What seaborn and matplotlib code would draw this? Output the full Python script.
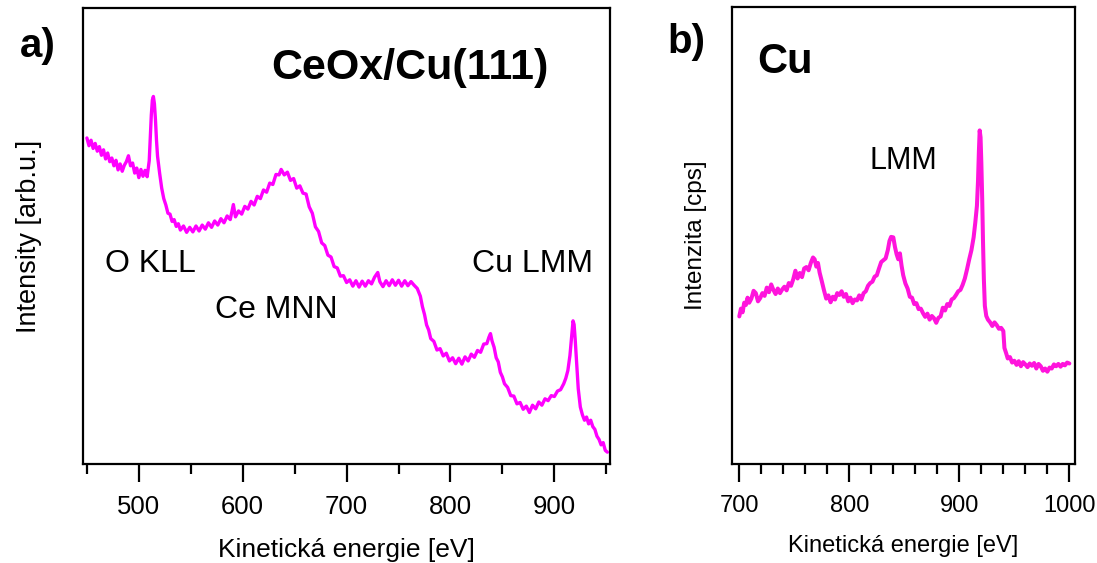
import matplotlib
matplotlib.use("Agg")
import matplotlib.pyplot as plt
import seaborn as sns
import pandas as pd
from matplotlib.ticker import MultipleLocator

# ---- Panel a) CeOx/Cu(111) AES spectrum (values read from picture) ----
ceox_energy = [450, 452, 454, 456, 458, 460, 462, 464, 466, 468, 470, 472, 474, 476, 478, 480,
               482, 484, 486, 488, 490, 492, 494, 496, 498, 500, 502, 504, 506, 508, 510, 511,
               512, 513, 514, 515, 516, 517, 518, 520, 522, 524, 526, 528, 530, 532, 534, 536,
               538, 540, 543, 546, 549, 552, 555, 558, 561, 564, 567, 570, 573, 576, 579, 582,
               585, 588, 591, 593, 596, 599, 602, 605, 608, 611, 614, 617, 620, 623, 626, 629,
               632, 635, 637, 640, 643, 646, 649, 652, 655, 658, 661, 664, 667, 670, 673, 676,
               679, 682, 685, 688, 691, 694, 697, 700, 703, 706, 709, 712, 715, 718, 721, 724,
               727, 730, 732, 735, 738, 741, 744, 747, 750, 753, 756, 759, 762, 765, 768, 771,
               773, 775, 777, 779, 781, 784, 787, 790, 793, 796, 799, 802, 805, 808, 811, 814,
               817, 820, 823, 826, 829, 832, 835, 837, 838.5, 840, 842, 844, 846, 848, 850, 852,
               855, 858, 861, 864, 867, 870, 873, 876, 879, 882, 885, 888, 891, 894, 897, 900,
               903, 906, 909, 911, 913, 915, 916.5, 918, 919, 920, 921.5, 923, 925, 927, 929, 931,
               933, 935, 937, 939, 941, 943, 945, 947, 949, 951]
ceox_intensity = [71.5, 69.8, 71.0, 69.2, 70.3, 68.6, 69.6, 67.7, 68.9, 66.9, 68.2, 66.3, 67.1, 65.4, 66.6, 64.5,
                  65.8, 64.2, 65.5, 66.3, 67.6, 65.4, 66.0, 63.8, 64.9, 62.8, 64.6, 63.1, 64.4, 63.0, 66.5, 71.5,
                  76.5, 79.8, 80.6, 79.0, 75.5, 71.0, 67.5, 63.8, 60.5, 58.2, 56.8, 55.0, 54.8, 53.2, 53.6, 52.1,
                  52.7, 51.3, 52.2, 50.8, 51.9, 50.9, 52.2, 51.1, 52.4, 51.5, 52.9, 51.9, 53.3, 52.4, 53.8, 52.9,
                  54.4, 53.6, 56.9, 54.2, 55.5, 54.8, 56.5, 55.9, 57.6, 56.8, 58.7, 58.2, 60.1, 59.6, 61.6, 61.3,
                  63.5, 63.4, 64.6, 63.4, 64.0, 62.2, 62.6, 60.5, 61.0, 59.4, 59.2, 56.4, 55.0, 52.0, 51.0, 48.5,
                  47.9, 45.8, 45.4, 43.3, 43.0, 41.2, 41.3, 39.8, 40.4, 39.0, 40.2, 38.8, 40.1, 39.0, 40.2, 39.5,
                  41.0, 42.0, 40.0, 38.9, 40.2, 39.1, 40.4, 39.2, 40.3, 39.0, 40.2, 39.1, 40.0, 39.2, 38.5, 36.8,
                  34.5, 32.8, 30.5, 29.4, 27.5, 26.9, 25.0, 25.3, 23.7, 24.3, 22.6, 23.3, 22.0, 23.2, 21.9, 23.5,
                  22.6, 24.1, 23.4, 24.9, 24.5, 26.3, 26.4, 27.8, 28.6, 27.0, 25.6, 23.3, 22.4, 20.1, 19.1, 17.6,
                  16.8, 15.0, 14.9, 13.2, 13.5, 12.0, 12.7, 11.3, 12.9, 12.1, 13.6, 12.9, 14.3, 13.9, 15.0, 14.8,
                  16.0, 16.3, 17.6, 18.8, 20.5, 23.8, 27.5, 31.4, 30.6, 27.5, 22.0, 16.5, 12.5, 10.8, 9.6, 10.3,
                  8.8, 9.6, 8.2, 7.6, 6.1, 5.4, 4.2, 4.7, 3.0, 2.6]

# ---- Panel b) Cu AES spectrum (values read from picture) ----
cu_energy = [700, 701.5, 703, 704.5, 706, 707.5, 709, 711, 713, 715, 717, 719, 721, 723, 725, 727,
             729, 731, 733, 735, 737, 739, 741, 743, 745, 747, 749, 751, 753, 755, 757, 759,
             761, 763, 765, 767, 768.5, 770, 771.5, 773, 775, 777, 779, 781, 783, 785, 787, 789,
             791, 793, 795, 797, 799, 801, 803, 805, 807, 809, 811, 813, 815, 817, 819, 821,
             823, 825, 827, 829, 831, 833, 835, 836.5, 838, 840, 841.5, 843, 844.5, 846, 847.5, 849,
             851, 853, 855, 857, 859, 861, 863, 865, 867, 869, 871, 873, 875, 877, 879, 881,
             883, 885, 887, 889, 891, 893, 895, 897, 899, 901, 903, 905, 907, 909, 911, 913,
             914.5, 916, 917, 917.8, 918.5, 919.3, 920, 920.8, 921.5, 922.3, 923.2, 924.5, 926, 928, 930, 932,
             934, 936, 938, 940, 941, 942.5, 944, 946, 948, 950, 952, 954, 956, 958, 960, 962,
             964, 966, 968, 970, 972, 974, 976, 978, 980, 982, 984, 986, 988, 990, 992, 994,
             996, 998, 1000]
cu_intensity = [32.3, 34.0, 33.2, 35.3, 34.8, 36.4, 35.3, 36.2, 37.9, 37.4, 35.6, 36.3, 37.4, 36.8, 38.6, 37.6,
                39.3, 38.1, 37.2, 38.4, 37.4, 38.2, 38.8, 38.0, 39.6, 39.0, 40.4, 42.3, 40.6, 41.8, 40.9, 42.8,
                43.1, 42.4, 44.0, 45.2, 44.8, 43.2, 44.0, 41.9, 40.0, 38.0, 36.2, 36.9, 35.4, 36.6, 36.0, 37.4,
                37.0, 37.8, 36.6, 37.2, 35.6, 36.4, 35.2, 36.0, 35.8, 36.9, 36.0, 37.4, 37.8, 39.0, 39.6, 39.9,
                41.0, 41.3, 42.8, 44.2, 44.6, 45.0, 46.8, 48.8, 49.7, 49.6, 47.5, 45.9, 44.8, 46.1, 43.4, 41.3,
                39.5, 38.4, 36.6, 36.4, 35.0, 35.2, 33.9, 34.0, 33.0, 32.2, 32.9, 31.6, 32.4, 31.9, 30.9, 32.0,
                32.3, 34.2, 33.6, 35.0, 34.6, 36.0, 36.3, 37.0, 37.8, 38.1, 39.2, 40.6, 42.6, 44.8, 46.8, 49.6,
                52.8, 56.5, 62.0, 68.5, 73.0, 71.5, 66.0, 58.0, 49.0, 40.5, 34.6, 32.4, 31.6, 31.0, 30.2, 31.0,
                30.4, 29.6, 29.8, 29.1, 25.4, 24.3, 23.1, 23.4, 22.2, 22.6, 21.7, 22.5, 21.4, 22.3, 21.8, 21.2,
                22.0, 21.5, 22.1, 20.9, 21.9, 21.4, 20.4, 20.9, 20.2, 21.1, 20.9, 21.8, 21.4, 21.9, 21.3, 21.9,
                21.6, 22.2, 22.0]

ceox_ticks = [500, 600, 700, 800, 900]
cu_ticks = [700, 800, 900, 1000]

sns.set_style("white")
plt.rcParams['font.family'] = ['Liberation Sans', 'DejaVu Sans']
plt.rcParams['text.color'] = 'black'
plt.rcParams['axes.labelcolor'] = 'black'
plt.rcParams['xtick.color'] = 'black'
plt.rcParams['ytick.color'] = 'black'

df_a = pd.DataFrame({"E": ceox_energy, "I": ceox_intensity})
df_b = pd.DataFrame({"E": cu_energy, "I": cu_intensity})

fig = plt.figure(figsize=(10.97, 5.63), dpi=100)
axL = fig.add_axes([0.0759, 0.1758, 0.4801, 0.810])
axR = fig.add_axes([0.667, 0.1758, 0.313, 0.8117])

sns.lineplot(data=df_a, x="E", y="I", ax=axL, color="#ff00ff", lw=2.4, sort=False, estimator=None)
sns.lineplot(data=df_b, x="E", y="I", ax=axR, color="#ff14dc", lw=2.9, sort=False, estimator=None)

for ax in (axL, axR):
    for sp in ax.spines.values():
        sp.set_visible(True)
        sp.set_color("black")
        sp.set_linewidth(1.6)
    ax.set_yticks([])
    ax.set_ylim(0, 100)
    ax.tick_params(axis="x", which="major", direction="out", length=13, width=1.6,
                   color="black", labelcolor="black", bottom=True)
    ax.tick_params(axis="x", which="minor", direction="out", length=7, width=1.6,
                   color="black", bottom=True)

axL.set_xlim(446.5, 953.5)
axL.set_xticks(ceox_ticks)
axL.xaxis.set_minor_locator(MultipleLocator(50))
axL.tick_params(axis="x", which="major", labelsize=18.5, pad=9)
axL.set_xlabel("Kinetická energie [eV]", fontsize=19, labelpad=14)
axL.set_ylabel("Intensity [arb.u.]", fontsize=19.5, labelpad=30)

axR.set_xlim(693.1, 1005.2)
axR.set_xticks(cu_ticks)
axR.xaxis.set_minor_locator(MultipleLocator(20))
axR.tick_params(axis="x", which="major", labelsize=17, pad=9)
axR.set_xlabel("Kinetická energie [eV]", fontsize=17, labelpad=13)
axR.set_ylabel("Intenzita [cps]", fontsize=17.5, labelpad=18)

# panel texts
axL.text(0.356, 0.868, "CeOx/Cu(111)", transform=axL.transAxes, fontsize=31,
         fontweight="bold", va="center", ha="left")
axL.text(0.041, 0.439, "O KLL", transform=axL.transAxes, fontsize=23, va="center", ha="left")
axL.text(0.251, 0.338, "Ce MNN", transform=axL.transAxes, fontsize=23, va="center", ha="left")
axL.text(0.738, 0.439, "Cu LMM", transform=axL.transAxes, fontsize=23, va="center", ha="left")

axR.text(0.073, 0.88, "Cu", transform=axR.transAxes, fontsize=30,
         fontweight="bold", va="center", ha="left")
axR.text(0.40, 0.663, "LMM", transform=axR.transAxes, fontsize=22, va="center", ha="left")

fig.text(20 / 1097, 1 - 46 / 563, "a)", fontsize=29, fontweight="bold", va="center", ha="left")
fig.text(667 / 1097, 1 - 42 / 563, "b)", fontsize=29, fontweight="bold", va="center", ha="left")

fig.savefig("out.png", dpi=100)
